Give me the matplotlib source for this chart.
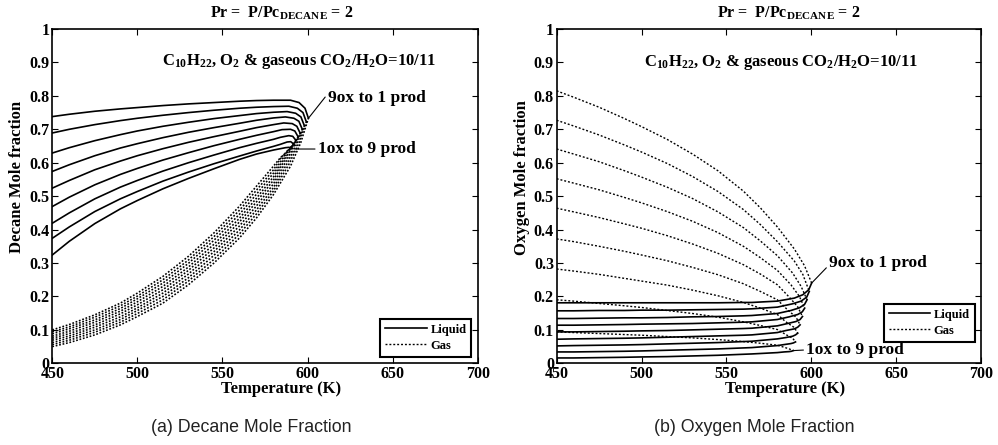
import matplotlib
matplotlib.use("Agg")
import matplotlib.pyplot as plt
from matplotlib.lines import Line2D

plt.rcParams['font.family'] = ['Liberation Serif', 'DejaVu Serif']
plt.rcParams['font.weight'] = 'bold'
plt.rcParams['mathtext.fontset'] = 'custom'
plt.rcParams['mathtext.rm'] = 'Liberation Serif:bold'
plt.rcParams['mathtext.it'] = 'Liberation Serif:bold'
plt.rcParams['mathtext.bf'] = 'Liberation Serif:bold'

# ---------------- data ----------------
XTICKS = [450, 500, 550, 600, 650, 700]
YTICKS = [0, 0.1, 0.2, 0.3, 0.4, 0.5, 0.6, 0.7, 0.8, 0.9, 1.0]
YTICK_LABELS = ['0', '0.1', '0.2', '0.3', '0.4', '0.5', '0.6', '0.7', '0.8', '0.9', '1']

T_COMMON = [450, 460, 475, 490, 500, 515, 530, 545, 560]

# Decane mole fraction, liquid (9ox/1prod ... 1ox/9prod)
DEC_LIQ = [
    [.738, .745, .754, .761, .765, .771, .776, .780, .784],
    [.689, .700, .714, .726, .733, .742, .750, .757, .763],
    [.629, .645, .666, .684, .695, .709, .721, .732, .741],
    [.574, .594, .621, .644, .657, .675, .691, .705, .718],
    [.524, .547, .579, .605, .621, .642, .661, .678, .694],
    [.469, .497, .534, .565, .583, .608, .630, .651, .670],
    [.419, .450, .492, .527, .547, .575, .600, .623, .645],
    [.374, .408, .454, .492, .514, .545, .572, .597, .620],
    [.324, .365, .418, .462, .487, .522, .553, .582, .610],
]
DEC_LIQ_TAIL_T = [
    [570, 580, 590, 595, 598.5, 600.5],
    [570, 580, 589, 594, 597.3, 599.3],
    [570, 580, 588, 593, 596.1, 598.1],
    [570, 580, 587, 592, 594.9, 596.9],
    [570, 580, 586, 591, 593.7, 595.7],
    [570, 580, 585, 590, 592.5, 594.5],
    [570, 580, 584, 589, 591.3, 593.3],
    [570, 580, 584, 588, 590.1, 592.1],
    [570, 580, 584, 587, 589.0, 591.0],
]
DEC_LIQ_TAIL_Y = [
    [.786, .787, .787, .780, .763, .733],
    [.766, .768, .769, .763, .750, .722],
    [.747, .751, .753, .748, .737, .711],
    [.727, .734, .737, .733, .724, .700],
    [.705, .714, .719, .717, .709, .688],
    [.682, .693, .699, .700, .695, .677],
    [.658, .670, .676, .681, .679, .666],
    [.635, .649, .655, .662, .663, .655],
    [.626, .638, .642, .645, .646, .644],
]

# Decane mole fraction, gas
DEC_GAS = [
    [.050, .062, .085, .115, .140, .180, .235, .300, .375],
    [.056, .069, .093, .123, .149, .190, .246, .311, .387],
    [.062, .076, .100, .131, .158, .200, .256, .323, .399],
    [.069, .082, .108, .139, .166, .210, .267, .334, .411],
    [.075, .089, .115, .148, .175, .220, .278, .345, .423],
    [.081, .096, .123, .156, .184, .230, .288, .356, .434],
    [.088, .103, .130, .164, .193, .240, .299, .368, .446],
    [.094, .109, .138, .172, .201, .250, .309, .379, .458],
    [.100, .116, .145, .180, .210, .260, .320, .390, .470],
]
DEC_GAS_TAIL_T = [
    [570, 580, 590, 596, 600.5],
    [570, 580, 589, 595, 599.3],
    [570, 580, 588, 594, 598.1],
    [570, 580, 587, 593, 596.9],
    [570, 580, 586, 592, 595.7],
    [570, 580, 585, 591, 594.5],
    [570, 580, 585, 590, 593.3],
    [570, 580, 584, 589, 592.1],
    [570, 580, 584, 588, 591.0],
]
DEC_GAS_TAIL_Y = [
    [.435, .505, .590, .660, .733],
    [.447, .516, .595, .660, .722],
    [.459, .526, .598, .660, .711],
    [.471, .537, .601, .658, .700],
    [.483, .548, .603, .656, .688],
    [.494, .558, .603, .652, .677],
    [.506, .569, .611, .646, .666],
    [.518, .579, .612, .641, .655],
    [.530, .590, .615, .633, .644],
]

# Oxygen mole fraction, liquid
OXY_LIQ = [
    [.181, .181, .181, .181, .181, .181, .181, .181, .182],
    [.157, .157, .158, .158, .159, .159, .160, .161, .162],
    [.134, .134, .135, .136, .136, .137, .139, .140, .142],
    [.114, .114, .115, .116, .117, .118, .119, .121, .123],
    [.094, .094, .095, .096, .097, .098, .100, .102, .104],
    [.072, .073, .074, .075, .076, .078, .080, .082, .084],
    [.052, .053, .054, .055, .056, .058, .060, .062, .065],
    [.034, .034, .035, .036, .037, .039, .041, .043, .046],
    [.016, .016, .017, .018, .019, .020, .022, .024, .027],
]
OXY_LIQ_TAIL_T = [
    [565, 580, 590, 595, 598.5, 600.2],
    [565, 580, 589, 594, 597.3, 598.8],
    [565, 580, 588, 593, 596.0, 597.5],
    [565, 580, 587, 592, 594.7, 596.1],
    [565, 580, 586, 591, 593.4, 594.8],
    [565, 580, 585, 590, 592.0, 593.4],
    [565, 580, 585, 589, 590.7, 592.0],
    [565, 580, 584, 588, 589.5, 590.7],
    [565, 580, 584, 587, 588.3, 589.4],
]
OXY_LIQ_TAIL_Y = [
    [.182, .186, .195, .205, .220, .240],
    [.163, .168, .178, .186, .198, .215],
    [.143, .149, .158, .166, .176, .190],
    [.124, .131, .139, .146, .154, .165],
    [.105, .112, .119, .125, .131, .140],
    [.085, .092, .098, .103, .108, .115],
    [.066, .073, .077, .081, .085, .090],
    [.047, .053, .056, .059, .061, .064],
    [.028, .032, .034, .035, .036, .038],
]

# Oxygen mole fraction, gas
OXY_GAS = [
    [.815, .796, .766, .732, .708, .670, .626, .576, .515],
    [.727, .710, .683, .653, .632, .598, .559, .514, .460],
    [.641, .626, .603, .576, .557, .527, .493, .453, .406],
    [.552, .539, .519, .496, .480, .454, .425, .391, .350],
    [.464, .453, .436, .417, .404, .382, .357, .329, .295],
    [.372, .364, .350, .335, .324, .307, .287, .265, .238],
    [.282, .276, .266, .254, .246, .234, .219, .202, .182],
    [.190, .186, .179, .172, .167, .158, .149, .138, .124],
    [.094, .092, .089, .086, .084, .080, .076, .071, .065],
]
OXY_GAS_TAIL_T = [
    [570, 580, 590, 596, 600.2],
    [570, 580, 590, 595, 598.8],
    [570, 580, 589, 594, 597.5],
    [570, 580, 588, 593, 596.1],
    [570, 580, 587, 592, 594.8],
    [570, 580, 586, 591, 593.4],
    [570, 580, 585, 590, 592.0],
    [570, 580, 585, 589, 590.7],
    [570, 580, 584, 587, 589.4],
]
OXY_GAS_TAIL_Y = [
    [.465, .408, .342, .292, .240],
    [.415, .364, .306, .266, .215],
    [.366, .322, .270, .230, .190],
    [.316, .278, .235, .200, .165],
    [.267, .235, .198, .169, .140],
    [.215, .190, .160, .138, .115],
    [.165, .146, .124, .107, .090],
    [.113, .101, .086, .075, .064],
    [.060, .054, .048, .043, .038],
]

TITLE = r'Pr =  P/Pc$_{\rm DECANE}$ = 2'
MIXTURE = r'C$_{10}$H$_{22}$, O$_2$ & gaseous CO$_2$/H$_2$O=10/11'
LABEL_HI = '9ox to 1 prod'
LABEL_LO = '1ox to 9 prod'

# ---------------- drawing ----------------
fig = plt.figure(figsize=(9.98, 4.45), dpi=100)
ax1 = fig.add_axes([0.0524, 0.1836, 0.4263, 0.7512])
ax2 = fig.add_axes([0.5578, 0.1836, 0.4252, 0.7512])

GAS_STYLE_A = dict(color='black', lw=1.15, linestyle=(0, (1.1, 1.1)))
GAS_STYLE_B = dict(color='black', lw=1.0, linestyle=(0, (1.4, 1.4)))
LIQ_STYLE = dict(color='black', lw=1.2, linestyle='-')


def draw(ax, liq, liq_tt, liq_ty, gas, gas_tt, gas_ty, gas_style):
    for k in range(len(liq)):
        ax.plot(T_COMMON + gas_tt[k], gas[k] + gas_ty[k], **gas_style)
    for k in range(len(liq)):
        ax.plot(T_COMMON + liq_tt[k], liq[k] + liq_ty[k], **LIQ_STYLE)


def style(ax, ylabel, title_x, legend_y, gas_style):
    ax.set_xlim(450, 700)
    ax.set_ylim(0, 1)
    ax.set_xticks(XTICKS)
    ax.set_yticks(YTICKS)
    ax.set_yticklabels(YTICK_LABELS)
    ax.tick_params(direction='in', length=4, width=0.8, top=True, right=True,
                   labelsize=11.5, pad=2)
    for lbl in ax.get_xticklabels() + ax.get_yticklabels():
        lbl.set_fontweight('bold')
    for sp in ax.spines.values():
        sp.set_linewidth(1.2)
    ax.set_xlabel('Temperature (K)', fontsize=12, fontweight='bold')
    ax.xaxis.label.set_va('center')
    ax.xaxis.set_label_coords(0.538, -0.077)
    ax.set_ylabel(ylabel, fontsize=12, fontweight='bold')
    ax.yaxis.label.set_va('center')
    ax.yaxis.set_label_coords(-0.082, 0.556)
    ax.text(title_x, 1.048, TITLE, transform=ax.transAxes, ha='center',
            va='center', fontsize=11.5, fontweight='bold')
    handles = [Line2D([], [], **LIQ_STYLE), Line2D([], [], **GAS_STYLE_B)]
    leg = ax.legend(handles, ['Liquid', 'Gas'], loc='lower right',
                    bbox_to_anchor=(0.985, legend_y), borderaxespad=0,
                    fancybox=False, framealpha=1, edgecolor='black',
                    prop={'family': 'Liberation Serif', 'weight': 'bold', 'size': 9},
                    handlelength=3.3, handletextpad=0.3, borderpad=0.4,
                    labelspacing=0.3)
    leg.get_frame().set_linewidth(1.5)


draw(ax1, DEC_LIQ, DEC_LIQ_TAIL_T, DEC_LIQ_TAIL_Y, DEC_GAS, DEC_GAS_TAIL_T,
     DEC_GAS_TAIL_Y, GAS_STYLE_A)
draw(ax2, OXY_LIQ, OXY_LIQ_TAIL_T, OXY_LIQ_TAIL_Y, OXY_GAS, OXY_GAS_TAIL_T,
     OXY_GAS_TAIL_Y, GAS_STYLE_B)

style(ax1, 'Decane Mole fraction', 0.538, 0.020, GAS_STYLE_A)
style(ax2, 'Oxygen Mole fraction', 0.547, 0.065, GAS_STYLE_B)

ax1.text(595.1, 0.902, MIXTURE, ha='center', va='center', fontsize=12, fontweight='bold')
ax2.text(582, 0.900, MIXTURE, ha='center', va='center', fontsize=12, fontweight='bold')

ARROW = dict(arrowstyle='-', lw=0.8, color='black', shrinkA=0, shrinkB=0)
ax1.annotate(LABEL_HI, xy=(DEC_LIQ_TAIL_T[0][-1], DEC_LIQ_TAIL_Y[0][-1]),
             xytext=(612, 0.795), ha='left', va='center', fontsize=12.5,
             fontweight='bold', arrowprops=dict(ARROW, relpos=(0, 0.75)))
ax1.annotate(LABEL_LO, xy=(592.8, 0.641), xytext=(606, 0.641), ha='left',
             va='center', fontsize=12.5, fontweight='bold',
             arrowprops=dict(ARROW, relpos=(0, 0.5)))
ax2.annotate(LABEL_HI, xy=(OXY_LIQ_TAIL_T[0][-1], OXY_LIQ_TAIL_Y[0][-1]),
             xytext=(610.5, 0.299), ha='left', va='center', fontsize=12.5,
             fontweight='bold', arrowprops=dict(ARROW, relpos=(0, 0.4)))
ax2.annotate(LABEL_LO, xy=(OXY_LIQ_TAIL_T[-1][-1], OXY_LIQ_TAIL_Y[-1][-1]),
             xytext=(597, 0.040), ha='left', va='center', fontsize=12.5,
             fontweight='bold', arrowprops=dict(ARROW, relpos=(0, 0.5)))

fig.text(251 / 998, 1 - 427 / 445, '(a) Decane Mole Fraction', ha='center',
         va='center', fontsize=12.8, fontweight='normal',
         family=['Liberation Sans', 'DejaVu Sans'], color='#222222')
fig.text(754 / 998, 1 - 427 / 445, '(b) Oxygen Mole Fraction', ha='center',
         va='center', fontsize=12.8, fontweight='normal',
         family=['Liberation Sans', 'DejaVu Sans'], color='#222222')

fig.savefig('out.png', dpi=100)
